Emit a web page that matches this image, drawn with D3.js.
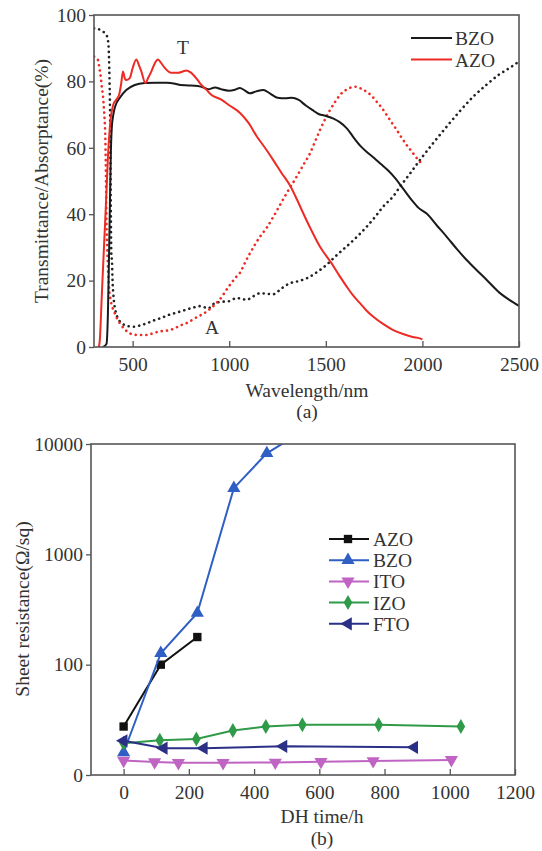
<!DOCTYPE html>
<html>
<head>
<meta charset="utf-8">
<script src="https://cdn.jsdelivr.net/npm/d3@7"></script>
<style>
  body { margin: 0; background: #fff; }
  text { font-family: "Liberation Serif", "DejaVu Serif", serif; fill: #333; }
</style>
</head>
<body>
<svg id="fig" width="542" height="851"></svg>
<script>
"use strict";

// (a) transmittance / absorptance spectra, [wavelength nm, %]
var bzoT = [[345,0],[355,0.3],[365,1],[372,10],[378,28],[383,45],[387,58],[392,66],[400,70],[410,72.5],[433,75],[467,77.4],[511,78.9],[562,79.5],[620,79.6],[676,79.6],[720,79.3],[747,78.9],[790,78.8],[837,78.6],[870,78.1],[891,77.6],[927,78.2],[960,77.6],[999,77.2],[1030,77.5],[1055,78],[1080,77.3],[1106,76.4],[1140,77],[1177,77.4],[1210,76.4],[1250,75.1],[1290,74.9],[1323,75.1],[1360,74.4],[1395,72.8],[1430,71.4],[1465,70.1],[1500,69.6],[1540,68.8],[1570,67.8],[1610,65.8],[1645,63],[1680,60.5],[1715,58.6],[1750,56.9],[1785,55.1],[1820,53.3],[1860,50.8],[1900,47.7],[1944,44.3],[1980,41.9],[2022,40.2],[2075,36.6],[2126,33.2],[2180,29.4],[2229,26.2],[2280,23.2],[2333,20.2],[2400,16.3],[2450,14.2],[2500,12.4]];

var azoT = [[325,0],[330,2],[340,15],[350,28],[358,38],[364,46],[372,57],[385,68],[400,73],[415,74.5],[430,76],[440,79],[450,83],[460,80.8],[467,80.4],[485,81],[500,84],[519,86.6],[532,85],[545,83],[566,79.5],[580,81],[597,83],[615,85.5],[631,86.6],[648,85.5],[666,84.1],[700,82.6],[735,82.6],[760,83],[778,83.3],[800,82.7],[812,82.1],[835,80.5],[855,79],[880,77.6],[907,76],[959,74.5],[1000,72.8],[1056,70.5],[1100,67.5],[1142,63.5],[1185,60],[1228,56.3],[1270,52.5],[1314,48.7],[1350,44.5],[1383,40.3],[1425,35.2],[1470,30.2],[1530,25.2],[1570,21.5],[1608,18.2],[1640,15.6],[1677,13.2],[1710,11],[1746,9.1],[1800,6.8],[1849,5.1],[1900,3.9],[1950,3],[1987,2.6],[2000,2.3]];

var bzoA = [[300,96],[320,95.8],[340,95.3],[355,94.6],[364,94],[372,92.5],[376,90],[379,84],[382,75],[384,66],[386,50],[388,35],[390,27.5],[393,26],[396,20],[400,16],[407,12.1],[415,10],[424,8.6],[440,7.4],[459,6.6],[502,6.1],[545,6.6],[580,7.3],[614,8.1],[650,8.8],[683,9.6],[730,10.4],[769,11.1],[810,11.8],[847,12.3],[870,12],[890,11.6],[925,13.2],[960,13.6],[1000,13.8],[1037,14.7],[1060,14.6],[1090,14.2],[1125,15.3],[1159,16.2],[1195,16],[1228,15.9],[1270,17.6],[1314,19.2],[1355,19.8],[1401,20.7],[1435,21.8],[1470,23.2],[1505,24.8],[1539,26.7],[1580,28.9],[1625,31.2],[1670,33.7],[1711,36.2],[1755,39.2],[1797,42.3],[1849,45.4],[1884,48.3],[1930,51.8],[1987,56.3],[2050,61],[2126,66.4],[2190,70.8],[2263,75.4],[2330,78.9],[2393,81.9],[2450,84],[2500,86]];

var azoA = [[300,87.5],[310,87],[321,86.4],[328,84],[335,81.4],[341,78],[347,75.4],[351,72],[355,68.4],[359,62],[362,50],[364,40],[369,29],[376,19.5],[385,14.5],[395,12],[405,10.5],[415,9.1],[441,6.6],[465,5],[485,4.1],[528,3.6],[571,3.6],[600,4],[631,4.6],[692,5.1],[752,6.6],[790,7.5],[821,8.6],[850,9.5],[881,10.6],[933,13.2],[960,15],[985,17.2],[1010,19.2],[1037,21.2],[1056,22.4],[1080,25.2],[1107,28.2],[1159,33.2],[1195,36],[1228,39.2],[1260,42.5],[1297,46.3],[1349,51.3],[1390,55.5],[1418,58.3],[1445,62],[1470,65.4],[1500,69],[1522,71.4],[1550,74],[1573,75.9],[1610,77.6],[1651,78.4],[1680,77.9],[1711,76.9],[1740,75.5],[1763,73.9],[1790,72],[1815,69.9],[1840,67.7],[1867,65.4],[1893,63],[1919,60.8],[1950,58.5],[1979,56.3],[2000,55]];

var waveTicks = [500, 1000, 1500, 2000, 2500];
var pctTicks = [0, 20, 40, 60, 80, 100];

// (b) sheet resistance vs damp-heat time, [hours, ohm/sq]
var resAZO = [[0,27.5],[114,100],[226,178]];
var resBZO = [[0,16],[114,127],[226,294],[338,3980],[439,8240],[548,13000]];
var resITO = [[0,13.5],[95,13.1],[168,12.9],[305,12.9],[465,13],[605,13.2],[765,13.4],[1005,13.7]];
var resIZO = [[0,19.4],[111,20.6],[223,21.2],[335,25.3],[436,27.5],[548,28.6],[782,28.6],[1034,27.5]];
var resFTO = [[0,20.4],[123,17.5],[246,17.5],[490,18.2],[891,17.8]];

var timeTicks = [0, 200, 400, 600, 800, 1000, 1200];
var resTicks = [10, 100, 1000, 10000];
var resTickLabels = ["0", "100", "1000", "10000"];

var svg = d3.select("#fig");
var frameColor = "#555";
var plain = d3.format("d");

/**
 * Draws an axis box with outward y ticks and inward x ticks.
 */
function frame(g, x, y, xTicks, yTicks, yFormat) {
  var w = x.range()[1] - x.range()[0];
  var h = y.range()[0] - y.range()[1];

  g.append("g")
      .attr("transform", "translate(0," + y.range()[0] + ")")
      .call(d3.axisBottom(x).tickValues(xTicks).tickFormat(plain).tickSizeInner(-6).tickSizeOuter(0).tickPadding(10))
      .call(styleAxis);

  g.append("g")
      .attr("transform", "translate(" + x.range()[0] + ",0)")
      .call(d3.axisLeft(y).tickValues(yTicks).tickFormat(yFormat).tickSize(5).tickSizeOuter(0).tickPadding(3))
      .call(styleAxis);

  g.append("rect")
      .attr("x", x.range()[0])
      .attr("y", y.range()[1])
      .attr("width", w)
      .attr("height", h)
      .attr("fill", "none")
      .attr("stroke", frameColor)
      .attr("stroke-width", 1.6);
}

function styleAxis(a) {
  a.select(".domain").remove();
  a.selectAll("line").attr("stroke", frameColor).attr("stroke-width", 1.3);
  a.selectAll("text")
      .style("font-size", "19.5px")
      .style("font-family", "'Liberation Serif', serif")
      .attr("fill", "#333");
}

// ---------- chart (a) ----------
var xa = d3.scaleLinear().domain([300, 2500]).range([94, 519]);
var ya = d3.scaleLinear().domain([0, 100]).range([347, 15]);
var ga = svg.append("g");

ga.append("clipPath").attr("id", "clipA")
  .append("rect").attr("x", 94).attr("y", 15).attr("width", 425).attr("height", 332);

var lineA = d3.line()
    .x(function(d){ return xa(d[0]) })
    .y(function(d){ return ya(d[1]) })
    .curve(d3.curveMonotoneX);

var spectra = [
  {data: bzoA, color: "#222", dotted: true},
  {data: azoA, color: "#ee2a24", dotted: true},
  {data: bzoT, color: "#1a1a1a", dotted: false},
  {data: azoT, color: "#ee2a24", dotted: false}
];

ga.append("g").attr("clip-path", "url(#clipA)")
  .selectAll("path")
  .data(spectra)
  .enter()
  .append("path")
    .attr("d", function(d){ return lineA(d.data) })
    .attr("fill", "none")
    .attr("stroke", function(d){ return d.color })
    .attr("stroke-width", function(d){ return d.dotted ? 2.6 : 2 })
    .attr("stroke-linecap", function(d){ return d.dotted ? "round" : "butt" })
    .attr("stroke-dasharray", function(d){ return d.dotted ? "0.1 5.2" : null });

frame(ga, xa, ya, waveTicks, pctTicks, plain);

ga.append("text").attr("x", 183).attr("y", 54).attr("text-anchor", "middle").style("font-size", "19.5px").text("T");
ga.append("text").attr("x", 212).attr("y", 334).attr("text-anchor", "middle").style("font-size", "19.5px").text("A");

ga.append("text")
    .attr("x", 307).attr("y", 397)
    .attr("text-anchor", "middle")
    .style("font-size", "19.5px")
    .text("Wavelength/nm");
ga.append("text")
    .attr("x", 307).attr("y", 418)
    .attr("text-anchor", "middle")
    .style("font-size", "19.5px")
    .text("(a)");
ga.append("text")
    .attr("transform", "translate(48,181) rotate(-90)")
    .attr("text-anchor", "middle")
    .style("font-size", "19.5px")
    .text("Transmittance/Absorptance(%)");

var legA = [{name: "BZO", color: "#1a1a1a"}, {name: "AZO", color: "#ee2a24"}];
ga.selectAll("legline")
  .data(legA)
  .enter()
  .append("line")
    .attr("x1", 411).attr("x2", 452)
    .attr("y1", function(d,i){ return 38 + i*21.5 })
    .attr("y2", function(d,i){ return 38 + i*21.5 })
    .attr("stroke", function(d){ return d.color })
    .attr("stroke-width", 2);
ga.selectAll("leglabel")
  .data(legA)
  .enter()
  .append("text")
    .attr("x", 455)
    .attr("y", function(d,i){ return 45 + i*21.5 })
    .style("font-size", "19.5px")
    .text(function(d){ return d.name });

// ---------- chart (b) ----------
var xb = d3.scaleLinear().domain([-100, 1200]).range([91, 515]);
var yb = d3.scaleLog().domain([10, 10000]).range([775, 444]);
var gb = svg.append("g");

gb.append("clipPath").attr("id", "clipB")
  .append("rect").attr("x", 91).attr("y", 444).attr("width", 424).attr("height", 331);

var lineB = d3.line()
    .x(function(d){ return xb(d[0]) })
    .y(function(d){ return yb(d[1]) });

var triUp = d3.symbolTriangle;
var series = [
  {name: "AZO", data: resAZO, color: "#111", sym: d3.symbolSquare, size: 70, rot: 0},
  {name: "BZO", data: resBZO, color: "#2f5fc4", sym: triUp, size: 75, rot: 0},
  {name: "ITO", data: resITO, color: "#c064c4", sym: triUp, size: 75, rot: 180},
  {name: "IZO", data: resIZO, color: "#2f9a48", sym: d3.symbolDiamond, size: 65, rot: 0},
  {name: "FTO", data: resFTO, color: "#2b2f86", sym: triUp, size: 75, rot: -90}
];

var plotB = gb.append("g").attr("clip-path", "url(#clipB)");

series.forEach(function(s) {
  plotB.append("path")
      .attr("d", lineB(s.data))
      .attr("fill", "none")
      .attr("stroke", s.color)
      .attr("stroke-width", 2);
  plotB.selectAll(".m-" + s.name)
      .data(s.data)
      .enter()
      .append("path")
        .attr("class", "m-" + s.name)
        .attr("d", d3.symbol().type(s.sym).size(s.size))
        .attr("transform", function(d){ return "translate(" + xb(d[0]) + "," + yb(d[1]) + ") rotate(" + s.rot + ")" })
        .attr("fill", s.color);
});

frame(gb, xb, yb, timeTicks, resTicks, function(d){ return resTickLabels[resTicks.indexOf(d)] });

gb.append("text")
    .attr("x", 322).attr("y", 823)
    .attr("text-anchor", "middle")
    .style("font-size", "19.5px")
    .text("DH time/h");
gb.append("text")
    .attr("x", 322).attr("y", 845)
    .attr("text-anchor", "middle")
    .style("font-size", "19.5px")
    .text("(b)");
gb.append("text")
    .attr("transform", "translate(29,609) rotate(-90)")
    .attr("text-anchor", "middle")
    .style("font-size", "19.5px")
    .text("Sheet resistance(\u03A9/sq)");

var leg = gb.selectAll("legrow")
  .data(series)
  .enter()
  .append("g")
    .attr("transform", function(d,i){ return "translate(0," + (539 + i*21.2) + ")" });
leg.append("line")
    .attr("x1", 329).attr("x2", 369)
    .attr("stroke", function(d){ return d.color })
    .attr("stroke-width", 2);
leg.append("path")
    .attr("d", function(d){ return d3.symbol().type(d.sym).size(d.size)() })
    .attr("transform", function(d){ return "translate(348,0) rotate(" + d.rot + ")" })
    .attr("fill", function(d){ return d.color });
leg.append("text")
    .attr("x", 373)
    .attr("y", 7)
    .style("font-size", "19.5px")
    .text(function(d){ return d.name });
</script>
</body>
</html>
